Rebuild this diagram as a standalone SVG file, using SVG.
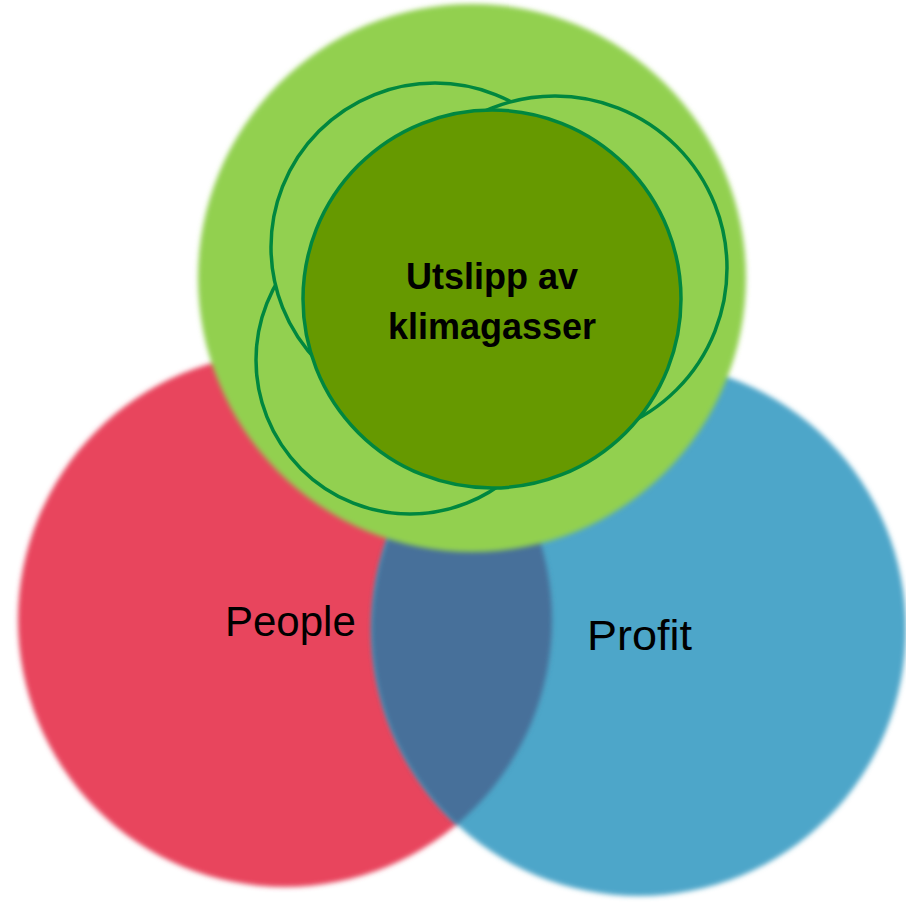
<svg xmlns="http://www.w3.org/2000/svg" width="906" height="903" viewBox="0 0 906 903">
<defs>
<filter id="soft" x="-10%" y="-10%" width="120%" height="120%"><feGaussianBlur stdDeviation="2.5"/></filter>
<clipPath id="redClip"><circle cx="285" cy="620" r="267"/></clipPath>
</defs>
<style>
.ring{fill:#92D050;stroke:#00873F;stroke-width:3.5}
.lbl{font-family:"Liberation Sans",Arial,sans-serif;fill:#000}
.big{font-size:42px}
.bold{font-size:36px;font-weight:bold;text-anchor:middle}
</style>
<rect width="906" height="903" fill="#ffffff"/>
<g id="people" filter="url(#soft)">
<circle cx="285" cy="620" r="267" fill="#E8455D"/>
</g>
<g id="profit" filter="url(#soft)">
<circle cx="639" cy="629" r="267" fill="#4DA6C9"/>
</g>
<g id="overlap" filter="url(#soft)">
<circle cx="639" cy="629" r="267" fill="#46709A" clip-path="url(#redClip)"/>
</g>
<g id="planet" filter="url(#soft)">
<circle cx="472" cy="278" r="274" fill="#92D050"/>
</g>
<g id="rings">
<circle class="ring" cx="410" cy="360" r="154"/>
<circle class="ring" cx="435" cy="247" r="164"/>
<circle class="ring" cx="555" cy="268" r="172"/>
</g>
<g id="core">
<circle cx="492" cy="299" r="189" fill="#669900" stroke="#00873F" stroke-width="3.5"/>
<text class="lbl bold" x="492" y="289">Utslipp av</text>
<text class="lbl bold" x="492" y="339">klimagasser</text>
</g>
<g id="labels">
<text class="lbl big" x="225" y="636">People</text>
<text class="lbl big" x="587" y="650" textLength="105" lengthAdjust="spacingAndGlyphs">Profit</text>
</g>
</svg>
